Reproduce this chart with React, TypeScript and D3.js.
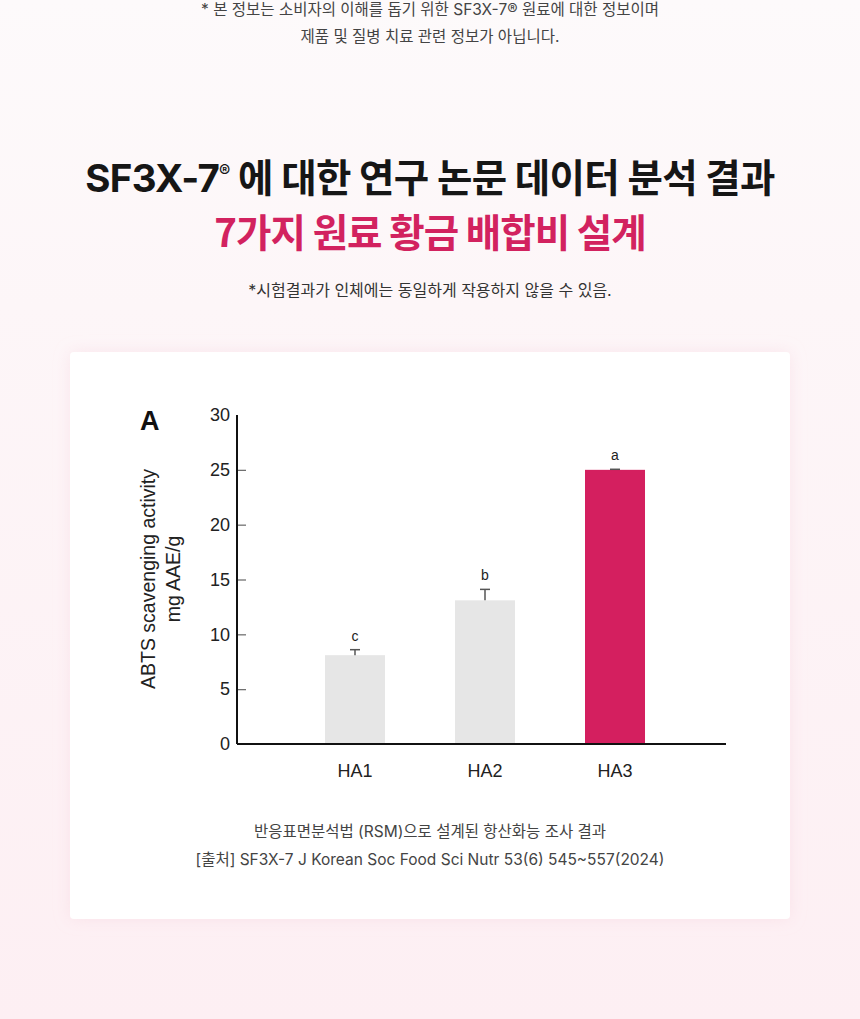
import React, { useRef, useEffect } from 'react';
import * as d3 from 'd3';

// data
const categories = ['HA1', 'HA2', 'HA3'];
const values = [8.1, 13.1, 25.0];
const errors = [0.5, 1.0, 0.05];
const letters = ['c', 'b', 'a'];
const yTicks = [0, 5, 10, 15, 20, 25, 30];

const noteLines = [
  '* 본 정보는 소비자의 이해를 돕기 위한 SF3X-7® 원료에 대한 정보이며',
  '제품 및 질병 치료 관련 정보가 아닙니다.',
];
const captionLines = [
  '반응표면분석법 (RSM)으로 설계된 항산화능 조사 결과',
  '[출처] SF3X-7 J Korean Soc Food Sci Nutr 53(6) 545~557(2024)',
];

const W = 860;
const H = 1019;
const KR = '"Noto Sans CJK KR", "Noto Sans", sans-serif';
const MIXED = `Inter, ${KR}`;
const CHART_FONT = '"Liberation Sans", Arial, sans-serif';

const App = () => {
  const svgRef = useRef<SVGSVGElement>(null);

  useEffect(() => {
    const svg = d3.select(svgRef.current);
    svg.selectAll('*').remove();

    // background gradient
    const defs = svg.append('defs');
    const grad = defs.append('linearGradient').attr('id', 'bg').attr('x1', 0).attr('y1', 0).attr('x2', 0).attr('y2', 1);
    grad.append('stop').attr('offset', '0%').attr('stop-color', '#fdfafb');
    grad.append('stop').attr('offset', '30%').attr('stop-color', '#fdf6f8');
    grad.append('stop').attr('offset', '100%').attr('stop-color', '#fdeff3');
    const shadow = defs.append('filter').attr('id', 'soft').attr('x', '-10%').attr('y', '-10%').attr('width', '120%').attr('height', '120%');
    shadow.append('feDropShadow').attr('dx', 0).attr('dy', 0).attr('stdDeviation', 8)
      .attr('flood-color', '#f3c6d3').attr('flood-opacity', 0.35);

    svg.append('rect').attr('width', W).attr('height', H).attr('fill', 'url(#bg)');

    // top notes
    svg.append('g').selectAll('text').data(noteLines).enter().append('text')
      .attr('x', W / 2).attr('y', (d, i) => 14.5 + i * 27)
      .attr('text-anchor', 'middle')
      .style('font-family', MIXED).style('font-size', '15.5px').attr('fill', '#444')
      .text(d => d);

    // headline
    const h1 = svg.append('text').attr('x', W / 2).attr('y', 192).attr('text-anchor', 'middle')
      .style('font-family', MIXED).style('font-size', '38.5px').style('font-weight', 700)
      .style('letter-spacing', '-0.7px').attr('fill', '#161616');
    h1.append('tspan').text('SF3X-7');
    h1.append('tspan').attr('dy', -15).style('font-size', '17px').text('®');
    h1.append('tspan').attr('dy', 15).text(' 에 대한 연구 논문 데이터 분석 결과');

    svg.append('text').attr('x', W / 2).attr('y', 247).attr('text-anchor', 'middle')
      .style('font-family', KR).style('font-size', '38.5px').style('font-weight', 700)
      .style('letter-spacing', '-1px').attr('fill', '#d2225f')
      .text('7가지 원료 황금 배합비 설계');

    svg.append('text').attr('x', W / 2).attr('y', 296).attr('text-anchor', 'middle')
      .style('font-family', MIXED).style('font-size', '16px').attr('fill', '#333')
      .text('*시험결과가 인체에는 동일하게 작용하지 않을 수 있음.');

    // card
    svg.append('rect').attr('x', 70).attr('y', 352).attr('width', 720).attr('height', 567)
      .attr('rx', 4).attr('fill', '#ffffff').attr('filter', 'url(#soft)');

    // chart scales
    const x0 = 237, x1 = 726;
    const y = d3.scaleLinear().domain([0, 30]).range([744, 415]);
    const x = d3.scaleBand().domain(categories).range([290, 680])
      .paddingInner(0.5385).paddingOuter(0.2692);

    const g = svg.append('g').style('font-family', CHART_FONT);

    // bars
    g.selectAll('.bar').data(values).enter().append('rect')
      .attr('class', 'bar')
      .attr('x', (d, i) => x(categories[i]))
      .attr('y', d => y(d))
      .attr('width', x.bandwidth())
      .attr('height', d => y(0) - y(d))
      .attr('fill', (d, i) => (i === 2 ? '#d41f5f' : '#e6e6e6'));

    // error bars
    const eb = g.selectAll('.err').data(values).enter().append('g').attr('class', 'err')
      .attr('stroke', '#555').attr('stroke-width', 1.5);
    eb.append('line')
      .attr('x1', (d, i) => x(categories[i]) + x.bandwidth() / 2)
      .attr('x2', (d, i) => x(categories[i]) + x.bandwidth() / 2)
      .attr('y1', d => y(d)).attr('y2', (d, i) => y(d + errors[i]));
    eb.append('line')
      .attr('x1', (d, i) => x(categories[i]) + x.bandwidth() / 2 - 5)
      .attr('x2', (d, i) => x(categories[i]) + x.bandwidth() / 2 + 5)
      .attr('y1', (d, i) => y(d + errors[i])).attr('y2', (d, i) => y(d + errors[i]));

    // significance letters
    g.selectAll('.sig').data(values).enter().append('text')
      .attr('class', 'sig')
      .attr('x', (d, i) => x(categories[i]) + x.bandwidth() / 2)
      .attr('y', (d, i) => y(d + errors[i]) - 9)
      .attr('text-anchor', 'middle')
      .style('font-size', '14px').attr('fill', '#222')
      .text((d, i) => letters[i]);

    // y axis
    const yAxis = d3.axisRight(y).tickValues(yTicks.filter(t => t > 0 && t < 30)).tickSize(9).tickFormat(() => '');
    const ya = g.append('g').attr('transform', `translate(${x0},0)`).call(yAxis);
    ya.select('.domain').remove();
    ya.selectAll('line').attr('stroke', '#666').attr('stroke-width', 1.2);
    g.append('line').attr('x1', x0).attr('x2', x0).attr('y1', y(30)).attr('y2', y(0))
      .attr('stroke', '#111').attr('stroke-width', 2);

    g.selectAll('.ytl').data(yTicks).enter().append('text')
      .attr('class', 'ytl')
      .attr('x', 230).attr('y', d => y(d)).attr('dy', '0.35em')
      .attr('text-anchor', 'end')
      .style('font-size', '18px').attr('fill', '#222')
      .text(d => d);

    // x axis
    g.append('line').attr('x1', x0).attr('x2', x1).attr('y1', y(0)).attr('y2', y(0))
      .attr('stroke', '#111').attr('stroke-width', 2);
    g.selectAll('.xtl').data(categories).enter().append('text')
      .attr('class', 'xtl')
      .attr('x', d => x(d) + x.bandwidth() / 2).attr('y', 777)
      .attr('text-anchor', 'middle')
      .style('font-size', '18px').attr('fill', '#222')
      .text(d => d);

    // y axis title
    const yt = g.append('text').attr('transform', 'translate(155,579) rotate(-90)')
      .attr('text-anchor', 'middle').style('font-size', '19.5px').attr('fill', '#222');
    yt.append('tspan').attr('x', 0).attr('y', 0).text('ABTS scavenging activity');
    yt.append('tspan').attr('x', 0).attr('y', 25).text('mg AAE/g');

    // panel letter
    g.append('text').attr('x', 140).attr('y', 430)
      .style('font-size', '27px').style('font-weight', 700).attr('fill', '#111')
      .text('A');

    // caption
    svg.append('g').selectAll('text').data(captionLines).enter().append('text')
      .attr('x', W / 2).attr('y', (d, i) => 837 + i * 28)
      .attr('text-anchor', 'middle')
      .style('font-family', MIXED).style('font-size', '15.5px').attr('fill', '#444')
      .text(d => d);
  }, []);

  return (
    <svg ref={svgRef} width={W} height={H} style={{ position: 'absolute', left: 0, top: 0, display: 'block' }} />
  );
};

export default App;
